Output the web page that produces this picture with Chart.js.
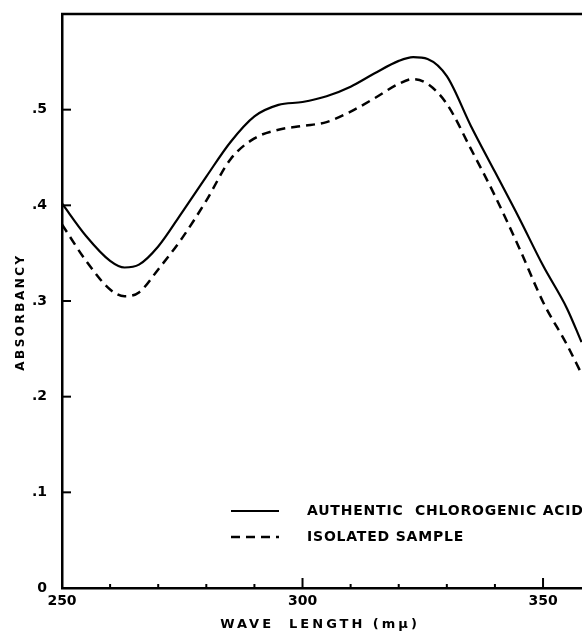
<!DOCTYPE html>
<html>
<head>
<meta charset="utf-8">
<script src="https://cdn.jsdelivr.net/npm/chart.js@4.4.1/dist/chart.umd.min.js"></script>
<style>
  html, body { margin: 0; padding: 0; background: #fff; }
</style>
</head>
<body>
<canvas id="chart" width="582" height="636"></canvas>
<script>
// Wave length (mμ) of the points
const waveLength = [250, 255, 260, 263, 266, 270, 275, 280, 285, 290, 295, 300, 305, 310, 315, 320, 323, 326, 330, 335, 340, 345, 350, 355, 358];
// Absorbancy, authentic chlorogenic acid (solid)
const authentic = [0.402, 0.368, 0.342, 0.335, 0.338, 0.357, 0.393, 0.430, 0.466, 0.493, 0.505, 0.508, 0.514, 0.524, 0.538, 0.551, 0.555, 0.553, 0.535, 0.483, 0.435, 0.387, 0.337, 0.292, 0.257];
// Absorbancy, isolated sample (dashed)
const isolated = [0.380, 0.342, 0.312, 0.305, 0.309, 0.333, 0.366, 0.405, 0.448, 0.470, 0.479, 0.483, 0.487, 0.498, 0.512, 0.527, 0.532, 0.527, 0.506, 0.459, 0.410, 0.356, 0.299, 0.254, 0.224];

const seriesNames = ['AUTHENTIC  CHLOROGENIC ACID', 'ISOLATED SAMPLE'];
const xLabelsShown = [250, 300, 350];

const FONT = 'DejaVu Sans';
Chart.defaults.font.family = FONT;
Chart.defaults.color = '#000';

function toPoints(ys) {
  return waveLength.map((w, i) => ({ x: w, y: ys[i] }));
}

function whole(v) {
  return Math.abs(v - Math.round(v)) < 1e-6 ? Math.round(v) : null;
}

// frame top line, inward ticks, legend and axis titles
const paperLook = {
  id: 'paperLook',
  afterDraw(chart) {
    const { ctx, chartArea: a, scales: { x, y } } = chart;
    ctx.save();
    ctx.strokeStyle = '#000';
    ctx.fillStyle = '#000';
    ctx.lineWidth = 2.5;
    ctx.beginPath();
    ctx.moveTo(a.left - 1, a.top);
    ctx.lineTo(a.right, a.top);
    ctx.stroke();

    // tick marks pointing into the plot
    ctx.lineWidth = 2;
    x.ticks.forEach(t => {
      const v = whole(t.value);
      if (v === null || v % 10 !== 0 || v === 250) return;
      const px = x.getPixelForValue(v);
      const len = v % 50 === 0 ? 10 : 4;
      ctx.beginPath();
      ctx.moveTo(px, a.bottom);
      ctx.lineTo(px, a.bottom - len);
      ctx.stroke();
    });
    y.ticks.forEach(t => {
      const v = Math.round(t.value * 10) / 10;
      if (v <= 0 || v >= 0.6) return;
      const py = y.getPixelForValue(v);
      ctx.beginPath();
      ctx.moveTo(a.left, py);
      ctx.lineTo(a.left + 9, py);
      ctx.stroke();
    });

    // legend
    const rows = [511, 537];
    chart.data.datasets.forEach((ds, i) => {
      ctx.lineWidth = ds.borderWidth;
      ctx.setLineDash(ds.borderDash || []);
      ctx.beginPath();
      ctx.moveTo(231, rows[i]);
      ctx.lineTo(279, rows[i]);
      ctx.stroke();
      ctx.setLineDash([]);
      ctx.font = 'bold 14px ' + FONT;
      ctx.letterSpacing = '0.8px';
      ctx.textBaseline = 'middle';
      ctx.textAlign = 'left';
      ctx.fillText(ds.label, 307, rows[i]);
    });

    // axis titles
    ctx.letterSpacing = '3px';
    ctx.font = 'bold 13px ' + FONT;
    ctx.textAlign = 'center';
    ctx.textBaseline = 'middle';
    ctx.fillText('WAVE  LENGTH (mμ)', 320, 625);
    ctx.save();
    ctx.translate(21, 312);
    ctx.rotate(-Math.PI / 2);
    ctx.font = 'bold 12px ' + FONT;
    ctx.letterSpacing = '2.5px';
    ctx.fillText('ABSORBANCY', 0, 0);
    ctx.restore();
    ctx.restore();
  }
};

new Chart(document.getElementById('chart'), {
  type: 'line',
  data: {
    datasets: [{
      label: seriesNames[0],
      data: toPoints(authentic),
      borderColor: '#000',
      borderWidth: 2.2,
      pointRadius: 0,
      cubicInterpolationMode: 'monotone',
      fill: false
    }, {
      label: seriesNames[1],
      data: toPoints(isolated),
      borderColor: '#000',
      borderWidth: 2.5,
      borderDash: [9, 6],
      pointRadius: 0,
      cubicInterpolationMode: 'monotone',
      fill: false
    }]
  },
  options: {
    responsive: false,
    animation: false,
    devicePixelRatio: 1,
    layout: { padding: { top: 14, left: 0, right: 0, bottom: 0 } },
    plugins: { legend: { display: false }, tooltip: { enabled: false } },
    scales: {
      x: {
        type: 'linear',
        min: 250,
        max: 358.1,
        afterFit: s => { s.height = 48; s.paddingRight = 0; },
        border: { display: true, color: '#000', width: 2.5 },
        grid: { drawOnChartArea: false, drawTicks: false },
        ticks: {
          stepSize: 10,
          includeBounds: false,
          autoSkip: false,
          maxRotation: 0,
          padding: 5,
          font: { size: 14, weight: 'bold' },
          callback: v => xLabelsShown.includes(whole(v)) ? String(whole(v)) : ''
        }
      },
      y: {
        min: 0,
        max: 0.6,
        afterFit: s => { s.width = 62; s.paddingTop = 0; s.paddingBottom = 0; },
        border: { display: true, color: '#000', width: 2.5 },
        grid: { drawOnChartArea: false, drawTicks: false },
        ticks: {
          stepSize: 0.1,
          padding: 15,
          font: { size: 14, weight: 'bold' },
          callback: v => {
            const r = Math.round(v * 10) / 10;
            if (r >= 0.6) return '';
            return r === 0 ? '0' : '.' + Math.round(r * 10);
          }
        }
      }
    }
  },
  plugins: [paperLook]
});
</script>
</body>
</html>
